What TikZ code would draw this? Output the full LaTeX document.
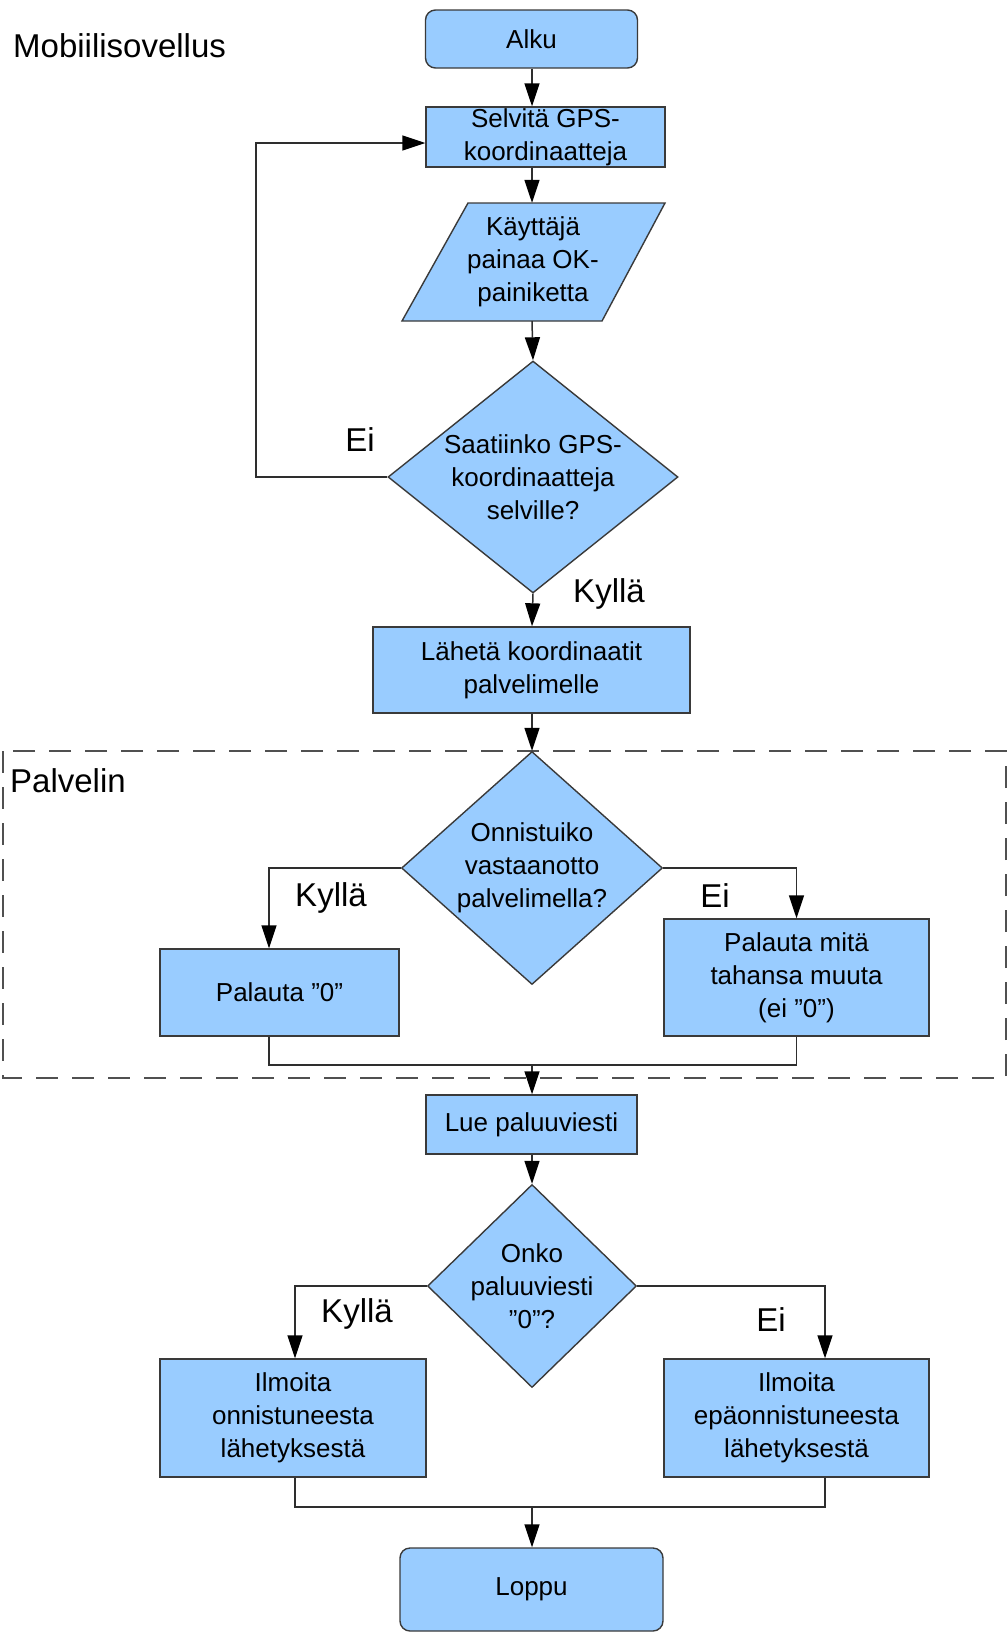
\documentclass[tikz,border=0pt]{standalone}
\usepackage{fontspec}
\setmainfont{Liberation Sans}
\usetikzlibrary{shapes.geometric,arrows.meta}

\definecolor{boxfill}{HTML}{99CCFF}
\definecolor{boxline}{HTML}{3A3A3A}
\definecolor{wire}{HTML}{2E2E2E}
\definecolor{frameline}{HTML}{505050}

\tikzset{
  boxtext/.style={font=\fontsize{26}{33}\selectfont, align=center, text=black},
  stepbox/.style={boxtext, draw=boxline, fill=boxfill, line width=1.4pt, inner sep=0pt},
  termbox/.style={stepbox, rounded corners=10pt},
  decision/.style={draw=boxline, fill=boxfill, line width=1.4pt, diamond, inner sep=0pt},
  tag/.style={font=\fontsize{33}{40}\selectfont, text=black, inner sep=0pt},
  flow/.style={draw=wire, line width=1.5pt,
    -{Triangle[length=23pt,width=15pt,color=black,fill=black]}},
  joinline/.style={draw=wire, line width=1.5pt},
}

\begin{document}
\begin{tikzpicture}[x=1pt,y=-1pt]
\useasboundingbox (0,0) rectangle (1008,1633);

% server frame
\draw[frameline, line width=1.8pt, dash pattern=on 22pt off 14pt] (3,751) rectangle (1006,1078);

% headings
\node[tag, anchor=west] (mobi) at (13,46) {Mobiilisovellus};
\node[tag, anchor=west] (palv) at (10,781) {Palvelin};

% main axis
\coordinate (ax) at (532,0);

% steps
\node[termbox, minimum width=212pt, minimum height=58pt] (alku) at (531.5,39) {Alku};
\node[stepbox, minimum width=239pt, minimum height=60pt] (selvita) at (545.5,137) {Selvitä GPS-\\koordinaatteja};

% input parallelogram
\filldraw[fill=boxfill, draw=boxline, line width=1.4pt]
  (468,203) -- (665,203) -- (602,321) -- (402,321) -- cycle;
\node[boxtext, minimum height=118pt, inner sep=0pt] (kay) at (533,262) {Käyttäjä\\painaa OK-\\painiketta};

% first decision
\node[decision, minimum width=290pt, minimum height=232pt] (d1) at (533,477) {};
\node[boxtext] (d1t) at (d1) {Saatiinko GPS-\\koordinaatteja\\selville?};

\node[stepbox, minimum width=317pt, minimum height=86pt] (lahe) at (531.5,670) {Lähetä koordinaatit\\palvelimelle};

% server decision
\node[decision, minimum width=261pt, minimum height=233pt] (d2) at (532,868) {};
\node[boxtext] (d2t) at (d2) {Onnistuiko\\vastaanotto\\palvelimella?};

\node[stepbox, minimum width=239pt, minimum height=87pt] (p0) at (279.5,992.5) {Palauta ”0”};
\node[stepbox, minimum width=265pt, minimum height=117pt] (pm) at (796.5,977.5) {Palauta mitä\\tahansa muuta\\(ei ”0”)};

\node[stepbox, minimum width=211pt, minimum height=59pt] (lue) at (531.5,1124.5) {Lue paluuviesti};

% reply decision
\node[decision, minimum width=209pt, minimum height=203pt] (d3) at (532,1286) {};
\node[boxtext] (d3t) at (d3) {Onko\\paluuviesti\\”0”?};

\node[stepbox, minimum width=266pt, minimum height=118pt] (ilm1) at (293,1418) {Ilmoita\\onnistuneesta\\lähetyksestä};
\node[stepbox, minimum width=265pt, minimum height=118pt] (ilm2) at (796.5,1418) {Ilmoita\\epäonnistuneesta\\lähetyksestä};

\node[termbox, minimum width=263pt, minimum height=83pt] (loppu) at (531.5,1589.5) {Loppu};

% branch labels
\node[tag] (ei1) at (360,440) {Ei};
\node[tag] (ky1) at (609,594) {Kyllä};
\node[tag] (ky2) at (331,898) {Kyllä};
\node[tag] (ei2) at (715,896) {Ei};
\node[tag] (ky3) at (357,1314) {Kyllä};
\node[tag] (ei3) at (771,1320) {Ei};

% helper points for routed lines
\coordinate (loop) at (256,143);
\coordinate (m1) at (532,1065);
\coordinate (m2) at (532,1507);

% connectors
\draw[flow] (alku.south -| ax) -- (selvita.north -| ax);
\draw[flow] (selvita.south -| ax) -- (kay.north -| ax);
\draw[flow] (kay.south -| ax) -- (d1.north);
\draw[flow] (d1.west) -| (loop) -- (loop -| selvita.west);
\draw[flow] (d1.south) -- (lahe.north -| ax);
\draw[flow] (lahe.south -| ax) -- (d2.north);

\draw[flow] (d2.west) -| ([xshift=-10.5pt]p0.north);
\draw[flow] (d2.east) -| (pm.north);
\draw[joinline] ([xshift=-10.5pt]p0.south) |- (m1) -| (pm.south);
\draw[flow] (m1) -- (lue.north -| ax);
\draw[flow] (lue.south -| ax) -- (d3.north);

\draw[flow] (d3.west) -| ([xshift=2pt]ilm1.north);
\draw[flow] (d3.east) -| ([xshift=28.5pt]ilm2.north);
\draw[joinline] ([xshift=2pt]ilm1.south) |- (m2) -| ([xshift=28.5pt]ilm2.south);
\draw[flow] (m2) -- (loppu.north -| ax);
\end{tikzpicture}
\end{document}
